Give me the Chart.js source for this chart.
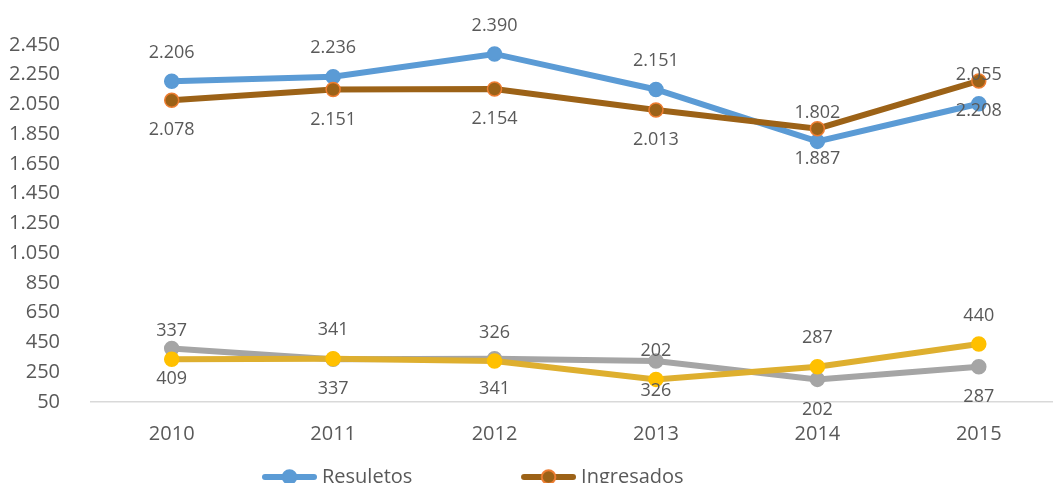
<!DOCTYPE html>
<html>
<head>
<meta charset="utf-8">
<script src="https://cdn.jsdelivr.net/npm/chart.js@4.4.0/dist/chart.umd.min.js"></script>
<style>
  html, body { margin: 0; padding: 0; background: #fff; overflow: hidden; }
  #wrap { width: 1053px; height: 483px; overflow: hidden; position: relative; }
  canvas { display: block; }
</style>
</head>
<body>
<div id="wrap"><canvas id="line_chart" width="1068" height="497"></canvas></div>
<script>
// data
const years = ["2010", "2011", "2012", "2013", "2014", "2015"];
const resueltos = [2206, 2236, 2390, 2151, 1802, 2055];
const ingresados = [2078, 2151, 2154, 2013, 1887, 2208];
const serieGris = [409, 337, 341, 326, 202, 287];
const serieAmarilla = [337, 341, 326, 202, 287, 440];
const yMin = 50, yMax = 2450, yStep = 200;

const textColor = "#595959";
const fontFamily = "'Open Sans', 'Segoe UI', sans-serif";

function fmt(v) {
  return String(v).replace(/\B(?=(\d{3})+(?!\d))/g, ".");
}

// line + dot image for the legend
function marker(lineColor, fill, border) {
  const c = document.createElement("canvas");
  c.width = 60; c.height = 18;
  const g = c.getContext("2d");
  g.strokeStyle = lineColor; g.lineWidth = 6; g.lineCap = "round";
  g.beginPath(); g.moveTo(8, 9); g.lineTo(57, 9); g.stroke();
  g.fillStyle = fill; g.strokeStyle = border; g.lineWidth = 2;
  g.beginPath(); g.arc(32.5, 9, 6.8, 0, Math.PI * 2); g.fill(); g.stroke();
  return c;
}

const valueLabels = {
  id: "valueLabels",
  afterDatasetsDraw(chart) {
    const ctx = chart.ctx;
    ctx.save();
    ctx.font = "18px " + fontFamily;
    ctx.fillStyle = textColor;
    ctx.textAlign = "center";
    ctx.textBaseline = "middle";
    chart.data.datasets.forEach((ds, i) => {
      const meta = chart.getDatasetMeta(i);
      meta.data.forEach((pt, j) => {
        const dy = ds.labelPos === "above" ? -28.5 : 30;
        ctx.fillText(fmt(ds.data[j]), pt.x, pt.y + dy);
      });
    });
    ctx.restore();
  }
};

const legendShift = {
  id: "legendShift",
  afterLayout(chart) {
    chart.legend.left = 252;
  }
};

const ctx = document.getElementById("line_chart");

new Chart(ctx, {
  type: "line",
  data: {
    labels: years,
    datasets: [
      {
        label: "Resuletos",
        data: resueltos,
        borderColor: "#5B9BD5",
        backgroundColor: "#5B9BD5",
        pointBackgroundColor: "#5B9BD5",
        pointBorderColor: "#5B9BD5",
        labelPos: "above",
        legendMarker: marker("#5B9BD5", "#5B9BD5", "#5B9BD5"),
        order: 4,
      },
      {
        label: "Ingresados",
        data: ingresados,
        borderColor: "#9C6217",
        backgroundColor: "#9C6217",
        pointBackgroundColor: "#9C6217",
        pointBorderColor: "#ED7D31",
        labelPos: "below",
        legendMarker: marker("#9C6217", "#9C6217", "#ED7D31"),
        order: 3,
      },
      {
        label: "Serie 3",
        data: serieGris,
        borderColor: "#A5A5A5",
        backgroundColor: "#A5A5A5",
        pointBackgroundColor: "#A5A5A5",
        pointBorderColor: "#A5A5A5",
        labelPos: "below",
        order: 2,
      },
      {
        label: "Serie 4",
        data: serieAmarilla,
        borderColor: "#DEAF2F",
        backgroundColor: "#FFC000",
        pointBackgroundColor: "#FFC000",
        pointBorderColor: "#FFC000",
        labelPos: "above",
        order: 1,
      },
    ],
  },
  options: {
    responsive: false,
    animation: false,
    devicePixelRatio: 1,
    layout: { padding: { top: 45, left: 0, right: 0, bottom: 0 } },
    elements: {
      line: { borderWidth: 6, tension: 0, fill: false },
      point: { radius: 7, borderWidth: 1.5, hoverRadius: 7 },
    },
    scales: {
      x: {
        offset: true,
        grid: { display: true, color: "rgba(0,0,0,0)", drawTicks: false },
        border: { display: true, color: "#D9D9D9", width: 1.5 },
        ticks: { color: textColor, font: { family: fontFamily, size: 20 }, padding: 20 },
        afterFit(scale) { scale.height = 55; },
      },
      y: {
        min: yMin,
        max: yMax,
        grid: { display: false },
        border: { display: false },
        ticks: {
          stepSize: yStep,
          color: textColor,
          font: { family: fontFamily, size: 20 },
          padding: 23,
          callback: (v) => fmt(v),
        },
        afterFit(scale) { scale.width = 91; },
      },
    },
    plugins: {
      tooltip: { enabled: false },
      legend: {
        position: "bottom",
        align: "start",
        labels: {
          color: textColor,
          font: { family: fontFamily, size: 20 },
          usePointStyle: true,
          pointStyleWidth: 50,
          padding: 10,
          sort: (a, b) => a.datasetIndex - b.datasetIndex,
          filter: (item) => item.datasetIndex < 2,
          generateLabels(chart) {
            const items = Chart.defaults.plugins.legend.labels.generateLabels(chart);
            items.forEach((it) => {
              const ds = chart.data.datasets[it.datasetIndex];
              if (ds.legendMarker) it.pointStyle = ds.legendMarker;
              if (it.datasetIndex === 0) it.text = it.text + "\u00a0".repeat(19);
            });
            return items;
          },
        },
      },
    },
  },
  plugins: [valueLabels, legendShift],
});
</script>
</body>
</html>
